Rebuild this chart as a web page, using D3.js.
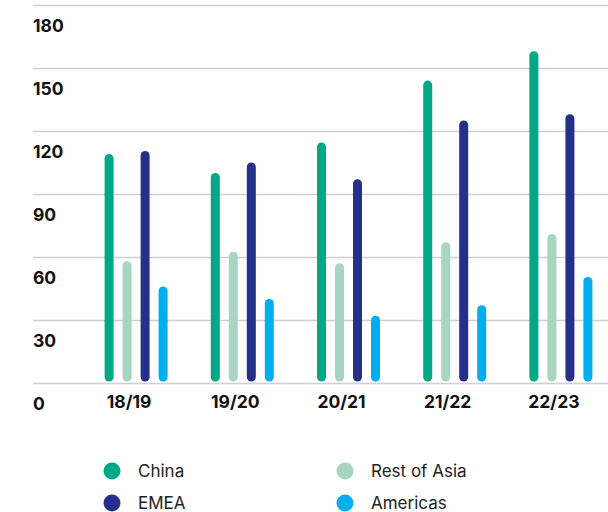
<!DOCTYPE html>
<html>
<head>
<meta charset="utf-8">
<script src="https://cdn.jsdelivr.net/npm/d3@7"></script>
<style>
  body { margin: 0; background: #fff; }
  svg { display: block; }
</style>
</head>
<body>
<div class="chart"></div>
<script>
var years = ["18/19", "19/20", "20/21", "21/22", "22/23"];
var series = ["China", "Rest of Asia", "EMEA", "Americas"];
var china = [109, 100, 114.5, 144, 158];
var restOfAsia = [58, 62.5, 57, 67, 71];
var emea = [110.5, 105, 97, 125, 128];
var americas = [46, 40, 32, 37, 50.5];
var yTicks = [0, 30, 60, 90, 120, 150, 180];
var colors = ["#00a886", "#a6d6c1", "#25308a", "#00aeef"];

var width = 608, height = 512;
var values = [china, restOfAsia, emea, americas];

var svg = d3.select(".chart")
    .append("svg")
    .attr("width", width)
    .attr("height", height);

var y = d3.scaleLinear().domain([0, 180]).range([383, 5]);
var x0 = d3.scaleBand().domain(years).range([83, 614]).padding(0);
var x1 = d3.scaleBand().domain(series).range([-36, 36]);
var color = d3.scaleOrdinal().domain(series).range(colors);
var barW = 9;

// grid lines + y labels
svg.append("g")
  .selectAll("line")
  .data(yTicks)
  .join("line")
  .attr("x1", 33)
  .attr("x2", width)
  .attr("y1", function(d){ return y(d) + 0.5; })
  .attr("y2", function(d){ return y(d) + 0.5; })
  .attr("stroke", "#cfcfcf")
  .attr("stroke-width", 1.3);

svg.append("g")
  .selectAll("text")
  .data(yTicks)
  .join("text")
  .attr("x", 33)
  .attr("y", function(d){ return y(d) + 26.5; })
  .attr("font-family", "Inter, sans-serif")
  .attr("font-weight", 700)
  .attr("font-size", "17.5px")
  .attr("fill", "#111")
  .text(function(d){ return d; });

// bars
var groups = svg.append("g")
  .selectAll("g")
  .data(years)
  .join("g")
  .attr("transform", function(d){ return "translate(" + (x0(d) + x0.bandwidth() / 2) + ",0)"; });

groups.selectAll("rect")
  .data(function(d, i){ return series.map(function(s, j){ return {s: s, v: values[j][i]}; }); })
  .join("rect")
  .attr("x", function(d){ return x1(d.s) + x1.bandwidth() / 2 - barW / 2; })
  .attr("y", function(d){ return y(d.v); })
  .attr("width", barW)
  .attr("height", function(d){ return y(0) - 1.5 - y(d.v); })
  .attr("rx", barW / 2)
  .attr("fill", function(d){ return color(d.s); });

// x labels
svg.append("g")
  .selectAll("text")
  .data(years)
  .join("text")
  .attr("x", function(d){ return x0(d) + x0.bandwidth() / 2 - 7; })
  .attr("y", y(0) + 24.5)
  .attr("text-anchor", "middle")
  .attr("font-family", "Inter, sans-serif")
  .attr("font-weight", 700)
  .attr("font-size", "17.5px")
  .attr("fill", "#111")
  .text(function(d){ return d; });

// legend
var legendPos = [[112, 471], [345, 471], [112, 503], [345, 503]];
var legendOrder = ["China", "Rest of Asia", "EMEA", "Americas"];
var legend = svg.append("g")
  .selectAll("g")
  .data(legendOrder)
  .join("g")
  .attr("transform", function(d, i){ return "translate(" + legendPos[i][0] + "," + legendPos[i][1] + ")"; });

legend.append("circle")
  .attr("r", 8.5)
  .attr("fill", function(d){ return color(d); });

legend.append("text")
  .attr("x", 26)
  .attr("dy", "0.35em")
  .attr("font-family", "Inter, sans-serif")
  .attr("font-size", "17px")
  .attr("fill", "#222")
  .text(function(d){ return d; });
</script>
</body>
</html>
